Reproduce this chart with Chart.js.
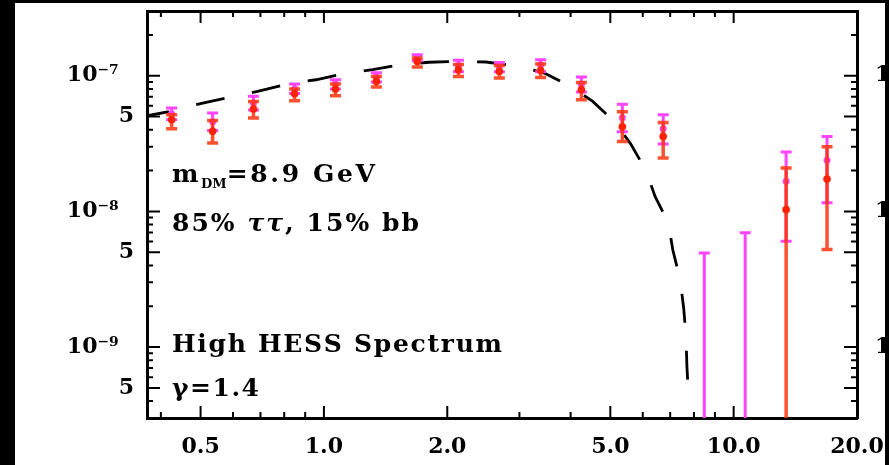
<!DOCTYPE html>
<html>
<head>
<meta charset="utf-8">
<script src="https://cdn.jsdelivr.net/npm/chart.js@4.4.0/dist/chart.umd.min.js"></script>
<style>
  html, body { margin: 0; padding: 0; background: #000; }
  #frame { position: absolute; left: 15px; top: 3px; width: 870px; height: 462px; overflow: hidden; background: #fff; }
  canvas { display: block; }
</style>
</head>
<body>
<div id="frame"><canvas id="myChart" width="940" height="462"></canvas></div>
<script>
// energy bins (GeV)
var energies = [0.425, 0.535, 0.673, 0.848, 1.067, 1.343, 1.69, 2.13, 2.68, 3.38, 4.25, 5.35, 6.73, 8.48, 10.67, 13.43, 16.9];

// red spectrum (value, lower, upper); 0 = bar runs off the bottom
var redFlux = [4.74e-8, 3.89e-8, 5.69e-8, 7.37e-8, 7.98e-8, 9.08e-8, 1.274e-7, 1.107e-7, 1.076e-7, 1.094e-7, 7.88e-8, 4.21e-8, 3.57e-8, null, null, 1.03e-8, 1.73e-8];
var redLow = [4.06e-8, 3.19e-8, 4.89e-8, 6.55e-8, 7.13e-8, 8.26e-8, 1.16e-7, 9.89e-8, 9.62e-8, 9.72e-8, 6.66e-8, 3.28e-8, 2.48e-8, null, null, 0, 5.24e-9];
var redHigh = [5.16e-8, 4.67e-8, 6.47e-8, 7.98e-8, 8.69e-8, 9.89e-8, 1.35e-7, 1.21e-7, 1.19e-7, 1.22e-7, 8.93e-8, 5.43e-8, 4.53e-8, null, null, 2.09e-8, 2.99e-8];

// magenta spectrum
var magFlux = [5.25e-8, 4.58e-8, 6.3e-8, 8.0e-8, 8.7e-8, 9.8e-8, 1.36e-7, 1.19e-7, 1.17e-7, 1.2e-7, 8.6e-8, 4.9e-8, 4.07e-8, null, null, 1.67e-8, 2.38e-8];
var magLow = [4.74e-8, 3.94e-8, 5.6e-8, 7.4e-8, 8.0e-8, 9.0e-8, 1.29e-7, 1.07e-7, 1.07e-7, 1.07e-7, 7.6e-8, 3.87e-8, 3.14e-8, 0, 0, 6.03e-9, 1.16e-8];
var magHigh = [5.78e-8, 5.31e-8, 7.05e-8, 8.69e-8, 9.35e-8, 1.05e-7, 1.43e-7, 1.30e-7, 1.25e-7, 1.31e-7, 9.78e-8, 6.17e-8, 5.16e-8, 4.94e-9, 6.95e-9, 2.74e-8, 3.57e-8];

// dark matter model curve
var modelEnergy = [0.371, 0.418, 0.506, 0.593, 0.689, 0.815, 0.956, 1.121, 1.315, 1.527, 1.804, 2.08, 2.486, 2.943, 3.45, 3.97, 4.53, 5.11, 5.60, 6.11, 6.43, 6.93, 7.10, 7.40, 7.55, 7.65, 7.69, 7.76];
var modelFlux = [5.07e-8, 5.43e-8, 6.29e-8, 6.97e-8, 7.66e-8, 8.69e-8, 9.34e-8, 1.035e-7, 1.107e-7, 1.205e-7, 1.257e-7, 1.274e-7, 1.262e-7, 1.184e-7, 1.047e-7, 8.44e-8, 6.47e-8, 4.61e-8, 3.16e-8, 2.0e-8, 1.29e-8, 8.23e-9, 5.23e-9, 3.15e-9, 1.95e-9, 1.2e-9, 7.23e-10, 4.3e-10];

// axes
var xTickValues = [0.5, 1, 2, 5, 10, 20];
var xTickLabels = ["0.5", "1.0", "2.0", "5.0", "10.0", "20.0"];
var xMinorTicks = [0.4, 0.6, 0.7, 0.8, 0.9, 3, 4, 6, 7, 8, 9];
var yTickValues = [5e-10, 1e-9, 5e-9, 1e-8, 5e-8, 1e-7];
var yTickLabels = ["5", "10\u207B\u2079  ", "5", "10\u207B\u2078  ", "5", "10\u207B\u2077  "];
var yRightLabels = ["", "10\u207B\u2079", "", "10\u207B\u2078", "", "10\u207B\u2077"];
var yMinorTicks = [4e-10, 6e-10, 7e-10, 8e-10, 9e-10, 2e-9, 3e-9, 4e-9, 6e-9, 7e-9, 8e-9, 9e-9,
  2e-8, 3e-8, 4e-8, 6e-8, 7e-8, 8e-8, 9e-8, 2e-7];

var noteMass = ["m", "DM", "=8.9 GeV"];
var noteChannel = ["85% ", "\u03C4\u03C4", ", 15% bb"];
var noteSpectrum = "High HESS Spectrum";
var noteGamma = "\u03B3=1.4";

function pairs(xs, ys) {
  return xs.map(function (v, i) { return { x: v, y: ys[i] }; });
}

var TXT = 'bold 25px "DejaVu Serif"';
var ITAL = 'italic bold 25px "DejaVu Serif"';
var SUB = 'bold 13px "DejaVu Serif"';
var tickFont = { family: "DejaVu Serif", weight: "bold", size: 22 };

// error bars drawn just before each dataset's points
var errorBars = {
  id: "errorBars",
  beforeDatasetDraw: function (chart, args) {
    var ds = chart.data.datasets[args.index];
    if (!ds.errHigh) return;
    var ctx = chart.ctx, a = chart.chartArea, x = chart.scales.x, y = chart.scales.y;
    ctx.save();
    ctx.beginPath();
    ctx.rect(a.left, a.top, a.right - a.left, a.bottom - a.top);
    ctx.clip();
    ctx.strokeStyle = ds.errColor;
    ctx.lineWidth = ds.errWidth;
    ctx.beginPath();
    energies.forEach(function (e, i) {
      var hi = ds.errHigh[i], lo = ds.errLow[i];
      if (hi == null) return;
      var px = x.getPixelForValue(e);
      var yh = y.getPixelForValue(hi);
      var yl = lo > 0 ? y.getPixelForValue(lo) : a.bottom + 5;
      ctx.moveTo(px, yh); ctx.lineTo(px, yl);
      ctx.moveTo(px - 5.5, yh); ctx.lineTo(px + 5.5, yh);
      if (lo > 0) { ctx.moveTo(px - 5.5, yl); ctx.lineTo(px + 5.5, yl); }
    });
    ctx.stroke();
    ctx.restore();
  },
};

// inward tick marks on all four sides
var frameTicks = {
  id: "frameTicks",
  afterDraw: function (chart) {
    var ctx = chart.ctx, a = chart.chartArea, x = chart.scales.x, y = chart.scales.y;
    ctx.save();
    ctx.strokeStyle = "#000";
    ctx.lineWidth = 2;
    ctx.beginPath();
    function xt(v, len) {
      var p = x.getPixelForValue(v);
      ctx.moveTo(p, a.bottom); ctx.lineTo(p, a.bottom - len);
      ctx.moveTo(p, a.top); ctx.lineTo(p, a.top + len);
    }
    function yt(v, len) {
      var p = y.getPixelForValue(v);
      ctx.moveTo(a.left, p); ctx.lineTo(a.left + len, p);
      ctx.moveTo(a.right, p); ctx.lineTo(a.right - len, p);
    }
    xTickValues.forEach(function (v) { xt(v, 12); });
    xMinorTicks.forEach(function (v) { xt(v, 6); });
    yTickValues.forEach(function (v) { yt(v, 13); });
    yMinorTicks.forEach(function (v) { yt(v, 6); });
    ctx.stroke();
    ctx.restore();
  },
};

// text with extra letter spacing so each line fills a given width
function drawSpaced(ctx, segs, x0, y0, width) {
  var natural = 0, n = 0;
  segs.forEach(function (s) {
    ctx.font = s.font;
    for (var ch of s.text) { natural += ctx.measureText(ch).width; if (!s.tight) n++; }
  });
  var gap = n > 1 ? (width - natural) / (n - 1) : 0;
  var xx = x0;
  segs.forEach(function (s) {
    ctx.font = s.font;
    for (var ch of s.text) {
      ctx.fillText(ch, xx, y0 + (s.dy || 0));
      xx += ctx.measureText(ch).width + (s.tight ? 0 : gap);
    }
  });
}

var notes = {
  id: "notes",
  afterDraw: function (chart) {
    var ctx = chart.ctx, a = chart.chartArea;
    var left = a.left + 25;
    ctx.save();
    ctx.fillStyle = "#000";
    ctx.textBaseline = "alphabetic";
    ctx.textAlign = "left";
    drawSpaced(ctx, [
      { text: noteMass[0], font: TXT },
      { text: noteMass[1], font: SUB, dy: 6, tight: true },
      { text: noteMass[2], font: TXT },
    ], left, a.top + 171, 203);
    drawSpaced(ctx, [
      { text: noteChannel[0], font: TXT },
      { text: noteChannel[1], font: ITAL },
      { text: noteChannel[2], font: TXT },
    ], left, a.top + 220, 247);
    drawSpaced(ctx, [{ text: noteSpectrum, font: TXT }], left, a.top + 341, 330);
    drawSpaced(ctx, [{ text: noteGamma, font: TXT }], left, a.top + 385, 87);
    ctx.restore();
  },
};

function noPad(s) {
  s.paddingTop = 0; s.paddingBottom = 0; s.paddingLeft = 0; s.paddingRight = 0;
}

function logAxis(position, min, max) {
  return {
    type: "logarithmic",
    position: position,
    min: min,
    max: max,
    grid: { display: false },
    border: { display: true, color: "#000", width: 3 },
  };
}

var xAxis = logAxis("bottom", 0.37, 20);
xAxis.ticks = { font: tickFont, color: "#000", padding: 8, autoSkip: false, maxRotation: 0,
  callback: function (v, i) { return xTickLabels[i]; } };
xAxis.afterBuildTicks = function (s) { s.ticks = xTickValues.map(function (v) { return { value: v }; }); };
xAxis.afterFit = function (s) { s.height = 47; noPad(s); };

var xTop = logAxis("top", 0.37, 20);
xTop.ticks = { display: false };
xTop.afterFit = function (s) { s.height = 8; noPad(s); };

var yAxis = logAxis("left", 3e-10, 3e-7);
yAxis.ticks = { font: tickFont, color: "#000", padding: 5, autoSkip: false,
  callback: function (v, i) { return yTickLabels[i]; } };
yAxis.afterBuildTicks = function (s) { s.ticks = yTickValues.map(function (v) { return { value: v }; }); };
yAxis.afterFit = function (s) { s.width = 132; noPad(s); };

var yRight = logAxis("right", 3e-10, 3e-7);
yRight.ticks = { font: tickFont, color: "#000", padding: 10, autoSkip: false,
  callback: function (v, i) { return yRightLabels[i]; } };
yRight.afterBuildTicks = function (s) { s.ticks = yTickValues.map(function (v) { return { value: v }; }); };
yRight.afterFit = function (s) { s.width = 98; noPad(s); };

var ctx = document.getElementById("myChart").getContext("2d");
var newChart = new Chart(ctx, {
  type: "line",
  data: {
    datasets: [
      {
        label: "red",
        data: pairs(energies, redFlux),
        showLine: false,
        pointRadius: 3.8,
        pointBorderWidth: 0,
        pointBackgroundColor: "#ff2200",
        errLow: redLow,
        errHigh: redHigh,
        errColor: "rgba(255, 50, 10, 0.85)",
        errWidth: 3.5,
        order: 0,
      },
      {
        label: "magenta",
        data: pairs(energies, magFlux),
        showLine: false,
        pointRadius: 3.5,
        pointBorderWidth: 0,
        pointBackgroundColor: "#ff44ff",
        errLow: magLow,
        errHigh: magHigh,
        errColor: "#ff44ff",
        errWidth: 3,
        order: 1,
      },
      {
        label: "model",
        data: pairs(modelEnergy, modelFlux),
        borderColor: "#000",
        borderWidth: 2.8,
        borderDash: [29, 28],
        borderDashOffset: 7,
        pointRadius: 0,
        tension: 0,
        order: 2,
      },
    ],
  },
  options: {
    responsive: false,
    animation: false,
    devicePixelRatio: 1,
    layout: { padding: 0 },
    plugins: { legend: { display: false }, tooltip: { enabled: false } },
    scales: { x: xAxis, x2: xTop, y: yAxis, y2: yRight },
  },
  plugins: [errorBars, frameTicks, notes],
});
</script>
</body>
</html>
